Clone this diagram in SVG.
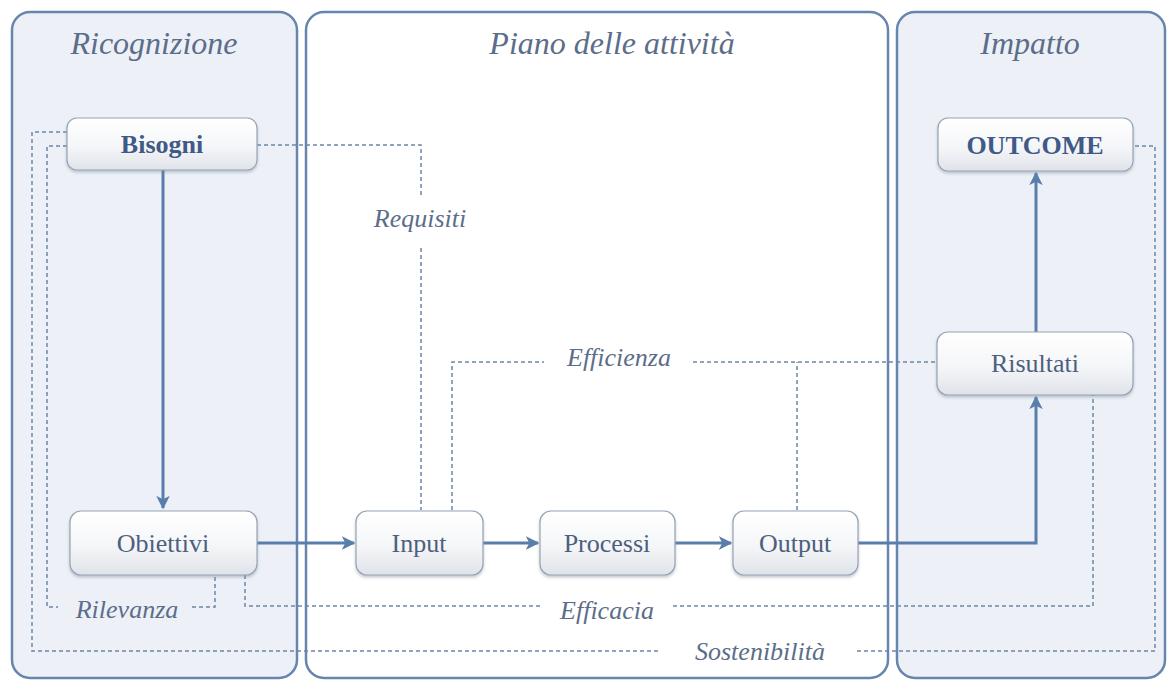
<svg xmlns="http://www.w3.org/2000/svg" width="1170" height="682" viewBox="0 0 1170 682">
<defs>
<linearGradient id="ng" x1="0" y1="0" x2="0" y2="1">
<stop offset="0" stop-color="#ffffff"/>
<stop offset="0.55" stop-color="#f5f6f8"/>
<stop offset="1" stop-color="#dfe3e9"/>
</linearGradient>
<filter id="sh" x="-10%" y="-20%" width="120%" height="150%">
<feDropShadow dx="0" dy="2" stdDeviation="1.5" flood-color="#7a8699" flood-opacity="0.45"/>
</filter>
<marker id="ah" viewBox="0 0 10 10" refX="9" refY="5" markerWidth="4.5" markerHeight="4.5" orient="auto" markerUnits="strokeWidth">
<path d="M0,0 L10,5 L0,10 L2.5,5 z" fill="#5a7eac"/>
</marker>
</defs>
<style>
.panel{stroke:#6686ae;stroke-width:2.5}
.side{fill:#edf1f7}
.mid{fill:#ffffff}
.title{font-family:"Liberation Serif",serif;font-style:italic;font-size:32px;fill:#5c6d8a;text-anchor:middle}
.node rect{fill:url(#ng);stroke:#97a4b5;stroke-width:1.2;filter:url(#sh)}
.node text{font-family:"Liberation Serif",serif;font-size:26px;fill:#4d5f7f;text-anchor:middle}
.node text.b{font-weight:bold;fill:#3f5a86}
.solid{fill:none;stroke:#5a7eac;stroke-width:3;marker-end:url(#ah)}
.dash{fill:none;stroke:#6c86a8;stroke-width:1.5;stroke-dasharray:4 3}
.lab{font-family:"Liberation Serif",serif;font-style:italic;font-size:26px;fill:#5c6d8a;text-anchor:middle}
</style>
<rect width="1170" height="682" fill="#ffffff"/>
<g id="panels">
<rect class="panel side" x="12" y="12" width="285" height="666" rx="18"/>
<rect class="panel mid" x="306" y="12" width="582" height="666" rx="18"/>
<rect class="panel side" x="897" y="12" width="268" height="666" rx="18"/>
<text class="title" x="154" y="54">Ricognizione</text>
<text class="title" x="612" y="54">Piano delle attività</text>
<text class="title" x="1030" y="54">Impatto</text>
</g>
<g id="connectors">
<path class="dash" d="M257,145 H421 V198"/>
<path class="dash" d="M421,248 V510"/>
<text class="lab" x="420" y="227">Requisiti</text>
<path class="dash" d="M452,510 V362 H544"/>
<path class="dash" d="M693,362 H937"/>
<path class="dash" d="M797,510 V362"/>
<text class="lab" x="619" y="366">Efficienza</text>
<path class="dash" d="M67,146 H47 V607 H58"/>
<path class="dash" d="M192,607 H215 V575"/>
<text class="lab" x="127" y="618">Rilevanza</text>
<path class="dash" d="M245,575 V606 H542"/>
<path class="dash" d="M673,606 H1093 V395"/>
<text class="lab" x="607" y="619">Efficacia</text>
<path class="dash" d="M67,132 H32 V651 H658"/>
<path class="dash" d="M857,651 H1155 V146 H1133"/>
<text class="lab" x="760" y="660">Sostenibilità</text>
<path class="solid" d="M163,170 V508"/>
<path class="solid" d="M257,543 H354"/>
<path class="solid" d="M483,543 H538"/>
<path class="solid" d="M675,543 H731"/>
<path class="solid" d="M858,543 H1036 V397"/>
<path class="solid" d="M1036,332 V173"/>
</g>
<g id="bisogni" class="node"><rect x="67" y="118" width="190" height="52" rx="10"/><text class="b" x="162" y="153">Bisogni</text></g>
<g id="obiettivi" class="node"><rect x="70" y="511" width="187" height="64" rx="11"/><text x="163" y="552">Obiettivi</text></g>
<g id="input" class="node"><rect x="356" y="511" width="127" height="64" rx="11"/><text x="419" y="552">Input</text></g>
<g id="processi" class="node"><rect x="540" y="511" width="135" height="64" rx="11"/><text x="607" y="552">Processi</text></g>
<g id="output" class="node"><rect x="733" y="511" width="125" height="64" rx="11"/><text x="795" y="552">Output</text></g>
<g id="risultati" class="node"><rect x="937" y="332" width="196" height="63" rx="11"/><text x="1035" y="372">Risultati</text></g>
<g id="outcome" class="node"><rect x="938" y="118" width="195" height="53" rx="10"/><text class="b" x="1035" y="154">OUTCOME</text></g>
</svg>
